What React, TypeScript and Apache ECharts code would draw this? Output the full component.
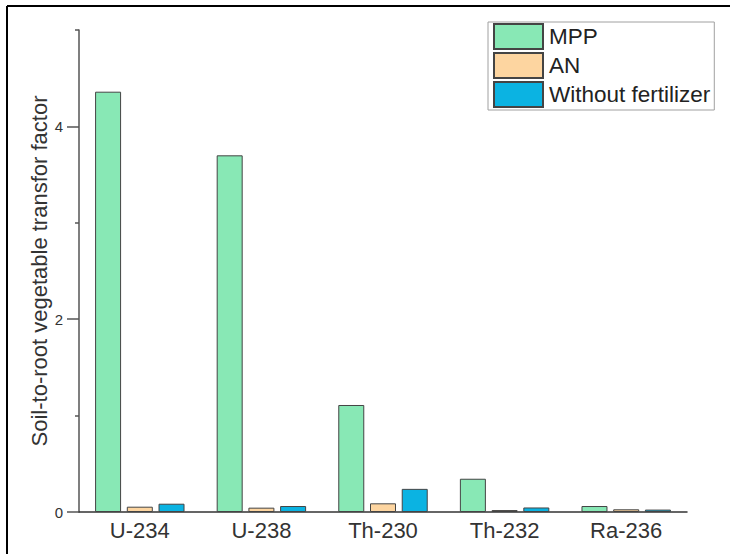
import React, { useEffect, useRef } from "react";
import * as echarts from "echarts";

const categories = ["U-234", "U-238", "Th-230", "Th-232", "Ra-236"];
const seriesNames = ["MPP", "AN", "Without fertilizer"];
const mppValues = [4.36, 3.7, 1.11, 0.345, 0.062];
const anValues = [0.055, 0.045, 0.09, 0.02, 0.028];
const withoutValues = [0.086, 0.062, 0.24, 0.047, 0.025];
const majorTickValues = [0, 2, 4];
const minorTickValues = [1, 3, 5];
const colors = ["#88e8b5", "#fdd5a0", "#0bb3e2"];

const FONT = "'Liberation Sans', Arial, sans-serif";

export default function App() {
  const ref = useRef<HTMLDivElement>(null);
  useEffect(() => {
    if (!ref.current) return;
    const chart = echarts.init(ref.current, undefined, { renderer: "svg" });
    const valuesList = [mppValues, anValues, withoutValues];
    chart.setOption({
      animation: false,
      backgroundColor: "#ffffff",
      textStyle: { fontFamily: FONT },
      grid: { left: 79, right: 43, top: 30, bottom: 42, containLabel: false },
      legend: {
        orient: "vertical",
        left: 488,
        top: 22,
        padding: [1, 4, 2, 5],
        itemWidth: 49,
        itemHeight: 25,
        itemGap: 2,
        borderColor: "#a0a0a0",
        borderWidth: 1,
        textStyle: { fontSize: 22.5, color: "#222", fontFamily: FONT, padding: [0, 0, 0, 1] },
        icon: "rect",
        data: seriesNames,
      },
      xAxis: {
        type: "category",
        data: categories,
        axisLine: { lineStyle: { color: "#333", width: 1.5 } },
        axisTick: { show: false },
        axisLabel: { fontSize: 22, color: "#333", margin: 7, fontFamily: FONT },
      },
      yAxis: [
        {
          type: "value",
          min: 0,
          max: 5,
          name: "Soil-to-root vegetable transfor factor",
          nameLocation: "middle",
          nameGap: 29,
          nameMoveOverlap: false,
          nameTextStyle: { fontSize: 22, color: "#333", fontFamily: FONT },
          axisLine: { show: true, lineStyle: { color: "#555", width: 1.5 } },
          axisTick: { show: true, inside: false, length: 12, customValues: majorTickValues, lineStyle: { color: "#555", width: 1.5 } },
          axisLabel: { fontSize: 15, color: "#333", margin: 16, customValues: majorTickValues, fontFamily: FONT },
          splitLine: { show: false },
        },
        {
          type: "value",
          min: 0,
          max: 5,
          position: "left",
          axisLine: { show: false },
          axisTick: { show: true, inside: false, length: 4, customValues: minorTickValues, lineStyle: { color: "#555", width: 1.5 } },
          axisLabel: { show: false },
          splitLine: { show: false },
        },
      ],
      series: seriesNames.map((name, i) => ({
        name,
        type: "bar",
        yAxisIndex: 0,
        data: valuesList[i],
        barWidth: 26,
        barGap: "22%",
        itemStyle: { color: colors[i], borderColor: "#444", borderWidth: 1 },
      })),
      graphic: [
        { type: "line", shape: { x1: 7, y1: 6, x2: 730, y2: 6 }, style: { stroke: "#000", lineWidth: 2 } },
        { type: "line", shape: { x1: 7, y1: 6, x2: 7, y2: 554 }, style: { stroke: "#000", lineWidth: 2 } },
      ],
    });
    return () => chart.dispose();
  }, []);
  return <div ref={ref} style={{ position: "fixed", left: 0, top: 0, width: 730, height: 554 }} />;
}
